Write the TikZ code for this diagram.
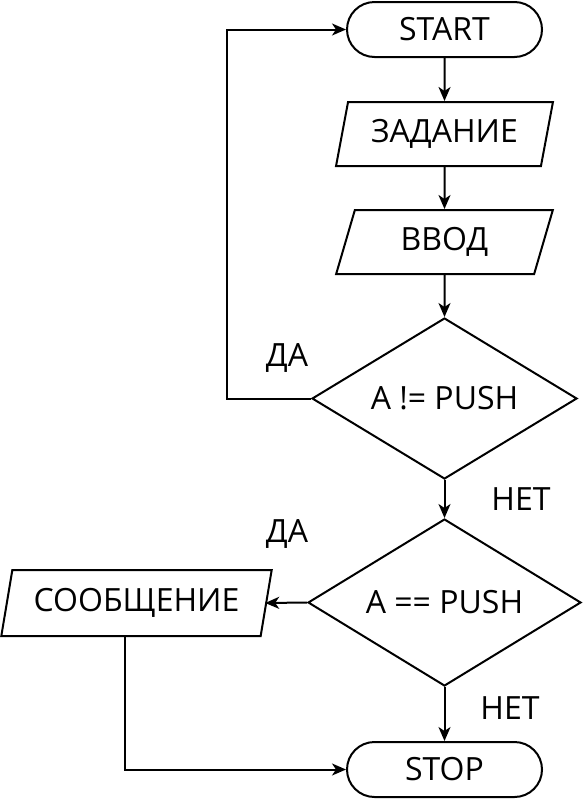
\documentclass[tikz,border=0pt]{standalone}
\usepackage{fontspec}
\setmainfont{Open Sans}
\usetikzlibrary{shapes.geometric,shapes.misc,arrows.meta}

\begin{document}
\begin{tikzpicture}[x=1pt,y=-1pt,line width=2pt,
  every node/.style={font=\fontsize{32}{38}\selectfont},
  term/.style={draw,rounded rectangle,minimum width=195pt,minimum height=55pt,inner sep=0pt},
  io/.style={draw,trapezium,trapezium left angle=72.6,trapezium right angle=107.4,
    trapezium stretches=true,minimum height=64pt,inner sep=0pt},
  cond/.style={draw,diamond,aspect=1.64,inner sep=0pt},
  arr/.style={-{Stealth[length=14pt,width=12pt,inset=4pt]}}]
  \useasboundingbox (0,0) rectangle (583,801);
  % main column
  \node[term]                     (start) at (444.5,29.5)  {START};
  \node[io,minimum width=217pt]   (task)  at (444.5,134)   {ЗАДАНИЕ};
  \node[io,minimum width=217pt]   (input) at (444.5,242)   {ВВОД};
  \node[cond,minimum width=265pt,minimum height=161pt] (chk1) at (444.5,398.5) {A != PUSH};
  \node[cond,minimum width=273pt,minimum height=167pt] (chk2) at (444.5,602.5) {A == PUSH};
  \node[term]                     (stop)  at (444.5,769.5) {STOP};
  % left branch
  \node[io,minimum width=271pt,minimum height=66pt] (msg) at (136.5,603) {СООБЩЕНИЕ};
  % labels
  \node (yes1) at (287,358) {ДА};
  \node (no1)  at (521,499) {НЕТ};
  \node (yes2) at (287,534) {ДА};
  \node (no2)  at (510,708) {НЕТ};
  % connectors
  \draw[arr] (start) -- (task);
  \draw[arr] (task) -- (input);
  \draw[arr] (input) -- (chk1);
  \draw[arr] (chk1.west) -- ++(-84,0) |- (start);
  \draw[arr] (chk1) -- (chk2);
  \draw[arr] (chk2.west) -- ([xshift=-2pt]msg.east);
  \draw[arr] (chk2) -- (stop);
  \draw[arr] ([xshift=-6pt]msg.bottom side) |- (stop);
\end{tikzpicture}
\end{document}
